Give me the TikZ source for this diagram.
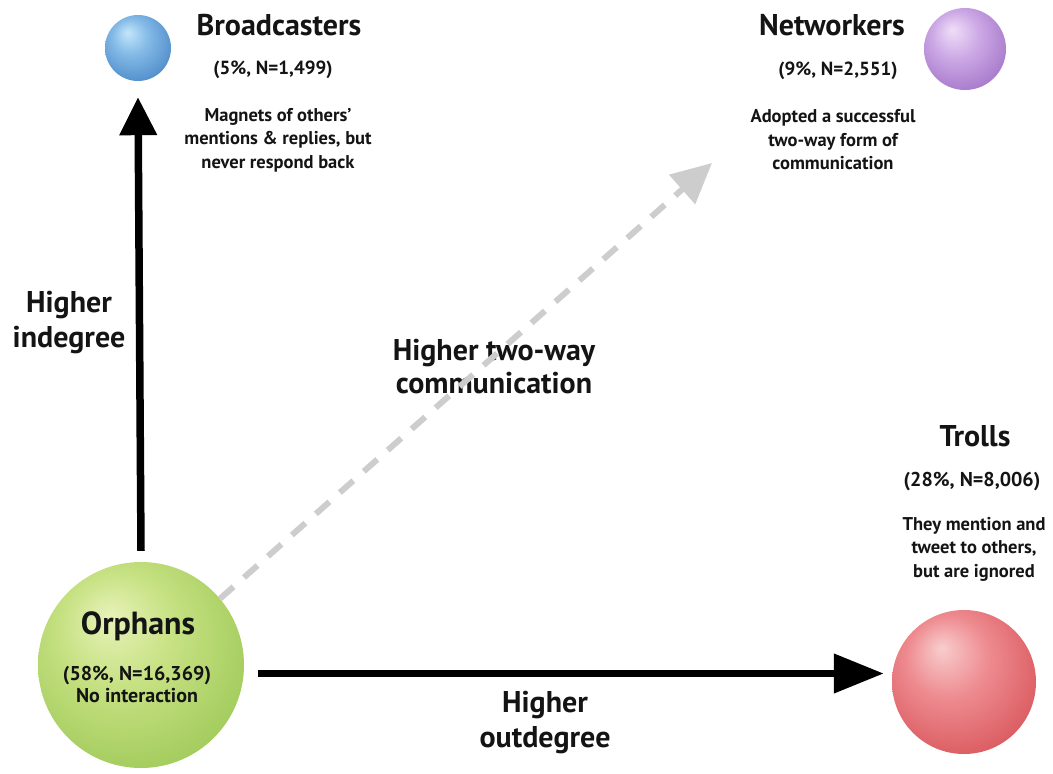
\documentclass[tikz,border=0pt]{standalone}
\usepackage{fontspec}
\setmainfont{PT Sans}
\usetikzlibrary{arrows.meta}
\definecolor{txt}{RGB}{20,20,20}
\definecolor{dashgray}{RGB}{205,205,205}
\pgfdeclareradialshading{greenball}{\pgfpoint{-8bp}{12bp}}{color(0bp)=(rgb,255:red,232;green,242;blue,185); color(14bp)=(rgb,255:red,198;green,225;blue,130); color(30bp)=(rgb,255:red,165;green,205;blue,95); color(42bp)=(rgb,255:red,130;green,170;blue,65); color(50bp)=(rgb,255:red,105;green,140;blue,50)}
\pgfdeclareradialshading{redball}{\pgfpoint{-8bp}{12bp}}{color(0bp)=(rgb,255:red,248;green,205;blue,205); color(14bp)=(rgb,255:red,238;green,140;blue,145); color(30bp)=(rgb,255:red,220;green,95;blue,100); color(42bp)=(rgb,255:red,175;green,60;blue,65); color(50bp)=(rgb,255:red,140;green,40;blue,45)}
\pgfdeclareradialshading{blueball}{\pgfpoint{-8bp}{12bp}}{color(0bp)=(rgb,255:red,195;green,230;blue,250); color(14bp)=(rgb,255:red,130;green,185;blue,230); color(30bp)=(rgb,255:red,85;green,145;blue,205); color(42bp)=(rgb,255:red,50;green,100;blue,160); color(50bp)=(rgb,255:red,35;green,75;blue,125)}
\pgfdeclareradialshading{purpleball}{\pgfpoint{-8bp}{12bp}}{color(0bp)=(rgb,255:red,240;green,222;blue,248); color(14bp)=(rgb,255:red,205;green,170;blue,230); color(30bp)=(rgb,255:red,170;green,125;blue,205); color(42bp)=(rgb,255:red,125;green,85;blue,160); color(50bp)=(rgb,255:red,100;green,65;blue,130)}
\tikzset{
  sphere/.style={circle, inner sep=0pt, text=txt},
  title/.style={font=\fontsize{30}{34}\selectfont\bfseries, text=txt, inner sep=0pt},
  stat/.style={font=\fontsize{19}{22}\selectfont\bfseries, text=txt, inner sep=0pt},
  desc/.style={font=\fontsize{18.5}{23.5}\selectfont\bfseries, text=txt, align=center, inner sep=0pt},
  axislabel/.style={font=\fontsize{30}{35}\selectfont\bfseries, text=txt, align=center, inner sep=0pt},
  bigarrow/.style={line width=7.5pt, black},
  dasharrow/.style={line width=6pt, dashgray, dash pattern=on 18pt off 14pt}
}
\begin{document}
\begin{tikzpicture}[x=1pt,y=-1pt]
\useasboundingbox (0,0) rectangle (1053,774);
% spheres
\node[sphere, minimum size=66pt, shading=blueball] (broad) at (138,48) {};
\node[sphere, minimum size=82pt, shading=purpleball] (net) at (965,49) {};
\node[sphere, minimum size=144pt, shading=redball] (troll) at (964,682) {};
\node[sphere, minimum size=206pt, shading=greenball] (orph) at (141,665) {};
% orphans text
\node[title, font=\fontsize{32}{36}\selectfont\bfseries] (orphT) at (138,626) {Orphans};
\node[desc, font=\fontsize{20}{22}\selectfont\bfseries] (orphD) at (137,684) {(58\%, N=16,369)\\No interaction};
% broadcasters text
\node[title] (broadT) at (279,25) {Broadcasters};
\node[stat] (broadS) at (273,70) {(5\%, N=1,499)};
\node[desc] (broadD) at (278,140) {Magnets of others’\\mentions \& replies, but\\never respond back};
% networkers text
\node[title] (netT) at (832,25) {Networkers};
\node[stat] (netS) at (838,71) {(9\%, N=2,551)};
\node[desc] (netD) at (833,140) {Adopted a successful\\two-way form of\\communication};
% trolls text
\node[title] (trollT) at (975,436) {Trolls};
\node[stat, font=\fontsize{20}{23}\selectfont\bfseries] (trollS) at (972,482) {(28\%, N=8,006)};
\node[desc] (trollD) at (974,549) {They mention and\\tweet to others,\\but are ignored};
% axis labels
\node[axislabel] (indeg) at (69,323) {Higher\\indegree};
\node[axislabel, font=\fontsize{30}{33}\selectfont\bfseries] (twoway) at (494,367) {Higher two-way\\communication};
\node[axislabel] (outdeg) at (545,723) {Higher\\outdegree};
% connectors
\coordinate (nettip) at (712,163);
\draw[dasharrow, -{Triangle[length=40pt,width=38pt]}] (orph.40) -- (nettip);
\draw[bigarrow, -{Triangle[length=38pt,width=36pt]}] ([yshift=11pt]orph.north) -- ([yshift=-16pt]broad.south);
\draw[bigarrow, -{Triangle[length=50pt,width=38pt]}] ([shift={(14,8.5)}]orph.east) -- ([shift={(-8,-8.5)}]troll.west);
\end{tikzpicture}
\end{document}
